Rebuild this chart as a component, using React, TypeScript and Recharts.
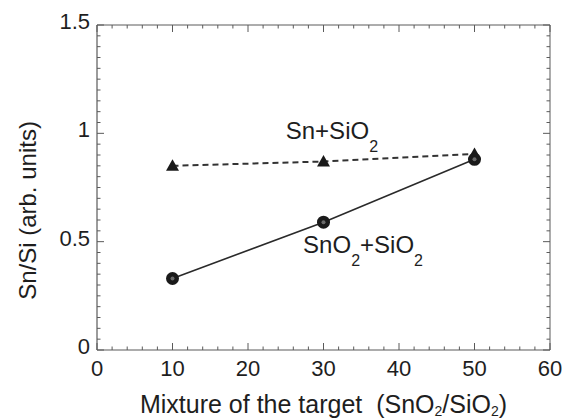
import React from 'react';
import { LineChart, Line, XAxis, YAxis, ReferenceDot } from 'recharts';

// ---- data ----
const mixture = [10, 30, 50];
const sno2SiO2 = [0.33, 0.59, 0.88];
const snSiO2 = [0.85, 0.87, 0.905];

const xMajorTicks = [0, 10, 20, 30, 40, 50, 60];
const xMinorTicks = [0, 2, 4, 6, 8, 10, 12, 14, 16, 18, 20, 22, 24, 26, 28, 30, 32, 34, 36, 38, 40, 42, 44, 46, 48, 50, 52, 54, 56, 58, 60];
const yMajorTicks = [0, 0.5, 1, 1.5];
const yMinorTicks = [0, 0.05, 0.1, 0.15, 0.2, 0.25, 0.3, 0.35, 0.4, 0.45, 0.5, 0.55, 0.6, 0.65, 0.7, 0.75, 0.8, 0.85, 0.9, 0.95, 1, 1.05, 1.1, 1.15, 1.2, 1.25, 1.3, 1.35, 1.4, 1.45, 1.5];

const annotSn = { x: 25, y: 0.972 };
const annotSnO2 = { x: 27.3, y: 0.45 };

const data = mixture.map((m, i) => ({ x: m, sno2: sno2SiO2[i], sn: snSiO2[i] }));

const FONT = '"Liberation Sans", Arial, Helvetica, sans-serif';
const AXIS = '#5a5a5a';
const TXT = '#1e1e1e';

const isMajor = (v: number, list: number[]) => list.some((t) => Math.abs(t - v) < 1e-6);

const BottomTick = (p: any) => {
  const { x, y, payload } = p;
  const major = isMajor(payload.value, xMajorTicks);
  return (
    <g>
      <line x1={x} x2={x} y1={y} y2={y - (major ? 7 : 3.5)} stroke={AXIS} strokeWidth={1} />
      {major && (
        <text x={x} y={y + 26} textAnchor="middle" fontSize={22} fill={TXT} fontFamily={FONT}>
          {payload.value}
        </text>
      )}
    </g>
  );
};

const TopTick = (p: any) => {
  const { x, y, payload } = p;
  const major = isMajor(payload.value, xMajorTicks);
  return <line x1={x} x2={x} y1={y} y2={y + (major ? 7 : 3.5)} stroke={AXIS} strokeWidth={1} />;
};

const LeftTick = (p: any) => {
  const { x, y, payload } = p;
  const major = isMajor(payload.value, yMajorTicks);
  return (
    <g>
      <line x1={x} x2={x + (major ? 7 : 3.5)} y1={y} y2={y} stroke={AXIS} strokeWidth={1} />
      {major && (
        <text x={x - 7} y={y + 4} textAnchor="end" fontSize={22} fill={TXT} fontFamily={FONT}>
          {String(payload.value)}
        </text>
      )}
    </g>
  );
};

const RightTick = (p: any) => {
  const { x, y, payload } = p;
  const major = isMajor(payload.value, yMajorTicks);
  return <line x1={x} x2={x - (major ? 7 : 3.5)} y1={y} y2={y} stroke={AXIS} strokeWidth={1} />;
};

const CircleDot = (p: any) => {
  const { cx, cy } = p;
  if (cx == null || cy == null) return <g />;
  return (
    <g>
      <circle cx={cx} cy={cy} r={6.5} fill="#1a1a1a" />
      <circle cx={cx} cy={cy} r={2} fill="#6a6a6a" />
    </g>
  );
};

const TriangleDot = (p: any) => {
  const { cx, cy } = p;
  if (cx == null || cy == null) return <g />;
  return <polygon points={`${cx},${cy - 6.5} ${cx - 6.5},${cy + 5} ${cx + 6.5},${cy + 5}`} fill="#1a1a1a" />;
};

const XTitle = (p: any) => {
  const vb = p.viewBox || {};
  const cx = vb.x + vb.width / 2;
  const y = vb.y + 63;
  return (
    <text x={cx} y={y} textAnchor="middle" fontSize={25} fill={TXT} fontFamily={FONT} style={{ whiteSpace: 'pre' }}>
      {'Mixture of the target  (SnO'}
      <tspan dy={3} fontSize={14}>2</tspan>
      <tspan dy={-3}>/SiO</tspan>
      <tspan dy={3} fontSize={14}>2</tspan>
      <tspan dy={-3}>)</tspan>
    </text>
  );
};

const YTitle = (p: any) => {
  const vb = p.viewBox || {};
  const x = vb.x + 36;
  const y = vb.y + vb.height / 2 + 23;
  return (
    <text x={x} y={y} textAnchor="middle" fontSize={24} fill={TXT} fontFamily={FONT} transform={`rotate(-90, ${x}, ${y})`}>
      Sn/Si (arb. units)
    </text>
  );
};

const SnLabel = (p: any) => {
  const { cx, cy } = p;
  return (
    <text x={cx} y={cy} fontSize={24} fill={TXT} fontFamily={FONT}>
      Sn+SiO
      <tspan dy={13} fontSize={16}>2</tspan>
    </text>
  );
};

const SnO2Label = (p: any) => {
  const { cx, cy } = p;
  return (
    <text x={cx} y={cy} fontSize={24} fill={TXT} fontFamily={FONT}>
      SnO
      <tspan dy={13} fontSize={16}>2</tspan>
      <tspan dy={-13}>+SiO</tspan>
      <tspan dy={13} fontSize={16}>2</tspan>
    </text>
  );
};

export default function App() {
  return (
    <div style={{ position: 'absolute', left: 0, top: 0, width: 565, height: 420, background: '#fff' }}>
      <LineChart width={565} height={420} data={data} margin={{ top: 24, right: 14, left: 0, bottom: 0 }}>
        <XAxis
          xAxisId="b"
          type="number"
          dataKey="x"
          domain={[0, 60]}
          ticks={xMinorTicks}
          interval={0}
          tick={<BottomTick />}
          tickLine={false}
          tickSize={0}
          tickMargin={0}
          axisLine={{ stroke: AXIS, strokeWidth: 1.2 }}
          height={70}
          label={<XTitle />}
        />
        <XAxis
          xAxisId="t"
          orientation="top"
          type="number"
          dataKey="x"
          domain={[0, 60]}
          ticks={xMinorTicks}
          interval={0}
          tick={<TopTick />}
          tickLine={false}
          tickSize={0}
          tickMargin={0}
          axisLine={{ stroke: AXIS, strokeWidth: 1 }}
          height={1}
        />
        <YAxis
          yAxisId="l"
          type="number"
          domain={[0, 1.5]}
          ticks={yMinorTicks}
          interval={0}
          tick={<LeftTick />}
          tickLine={false}
          tickSize={0}
          tickMargin={0}
          axisLine={{ stroke: AXIS, strokeWidth: 1.2 }}
          width={97}
          label={<YTitle />}
        />
        <YAxis
          yAxisId="r"
          orientation="right"
          type="number"
          domain={[0, 1.5]}
          ticks={yMinorTicks}
          interval={0}
          tick={<RightTick />}
          tickLine={false}
          tickSize={0}
          tickMargin={0}
          axisLine={{ stroke: AXIS, strokeWidth: 1 }}
          width={1}
        />
        <Line
          xAxisId="t"
          yAxisId="r"
          type="linear"
          dataKey="sn"
          stroke="#333"
          strokeWidth={2}
          strokeDasharray="6 4"
          dot={<TriangleDot />}
          activeDot={false}
          isAnimationActive={false}
        />
        <Line
          xAxisId="b"
          yAxisId="l"
          type="linear"
          dataKey="sno2"
          stroke="#2a2a2a"
          strokeWidth={1.6}
          dot={<CircleDot />}
          activeDot={false}
          isAnimationActive={false}
        />
        <ReferenceDot xAxisId="b" yAxisId="l" x={annotSn.x} y={annotSn.y} r={1} shape={<SnLabel />} />
        <ReferenceDot xAxisId="b" yAxisId="l" x={annotSnO2.x} y={annotSnO2.y} r={1} shape={<SnO2Label />} />
      </LineChart>
    </div>
  );
}
